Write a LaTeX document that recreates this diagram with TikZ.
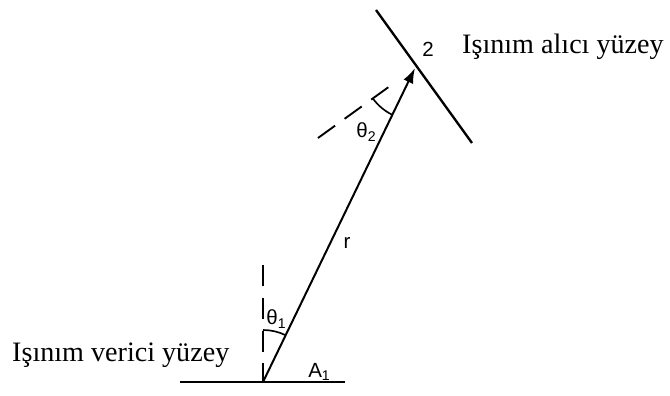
\documentclass[tikz,border=0pt]{standalone}
\usepackage{fontspec}
\setmainfont{Liberation Serif}
\setsansfont{Liberation Sans}
\usepackage{tikz}
\usetikzlibrary{calc, positioning, arrows.meta}
\newcommand{\lowsub}[1]{\raisebox{-0.35ex}{\fontsize{12}{14}\selectfont #1}}
\tikzset{
    surfaceline/.style={line width=2pt},
    normalline/.style={line width=1.6pt, dash pattern=on 18pt off 10pt},
    rayarrow/.style={line width=1.7pt, -{Latex[length=13pt, width=9pt]}},
    anglearc/.style={line width=1.4pt},
    surfacetext/.style={font=\fontsize{24}{28}\selectfont, inner sep=0pt},
    symboltext/.style={font=\sffamily\fontsize{17.5}{20}\selectfont, inner sep=0pt}
}

\begin{document}
\begin{tikzpicture}[x=0.03cm, y=0.03cm]
            \useasboundingbox (0,0) rectangle (670,396);
            \coordinate (src) at (263,14);
            \coordinate (dst) at (415,328);
            \coordinate (srcleft) at (180,14);
            \coordinate (srcright) at (345,14);
            \coordinate (srcnormal) at (263,131);
            \coordinate (dsttop) at (376,386);
            \coordinate (dstbottom) at (472,253);
            \coordinate (dstnormal) at (318,258);

            % surfaces
            \draw[surfaceline] (srcleft) -- (srcright);
            \draw[surfaceline] (dsttop) -- (dstbottom);

            % normals
            \draw[normalline] (srcnormal) -- (src);
            \draw[normalline] (dstnormal) -- ($(dst)!0.2!(dstnormal)$);

            % ray between the surfaces
            \draw[rayarrow] (src) -- (dst);

            % angles
            \draw[anglearc] ($(src)+(90:52)$) arc[start angle=90, end angle=64.2, radius=52];
            \draw[anglearc] ($(dst)+(215.8:52)$) arc[start angle=215.8, end angle=244.2, radius=52];

            \node[symboltext] (theta1) at (276,77) {θ\lowsub{1}};
            \node[symboltext] (theta2) at (366,264) {θ\lowsub{2}};
            \node[symboltext] (rlabel) at (347,153) {r};
            \node[symboltext] (alabel) at (319,24) {A\lowsub{1}};
            \node[symboltext] (twolabel) at (428,347) {2};

            \node[surfacetext, anchor=west] (receiver) at (462,349) {Işınım alıcı yüzey};
            \node[surfacetext, anchor=west] (emitter) at (12,41) {Işınım verici yüzey};
        \end{tikzpicture}
\end{document}
